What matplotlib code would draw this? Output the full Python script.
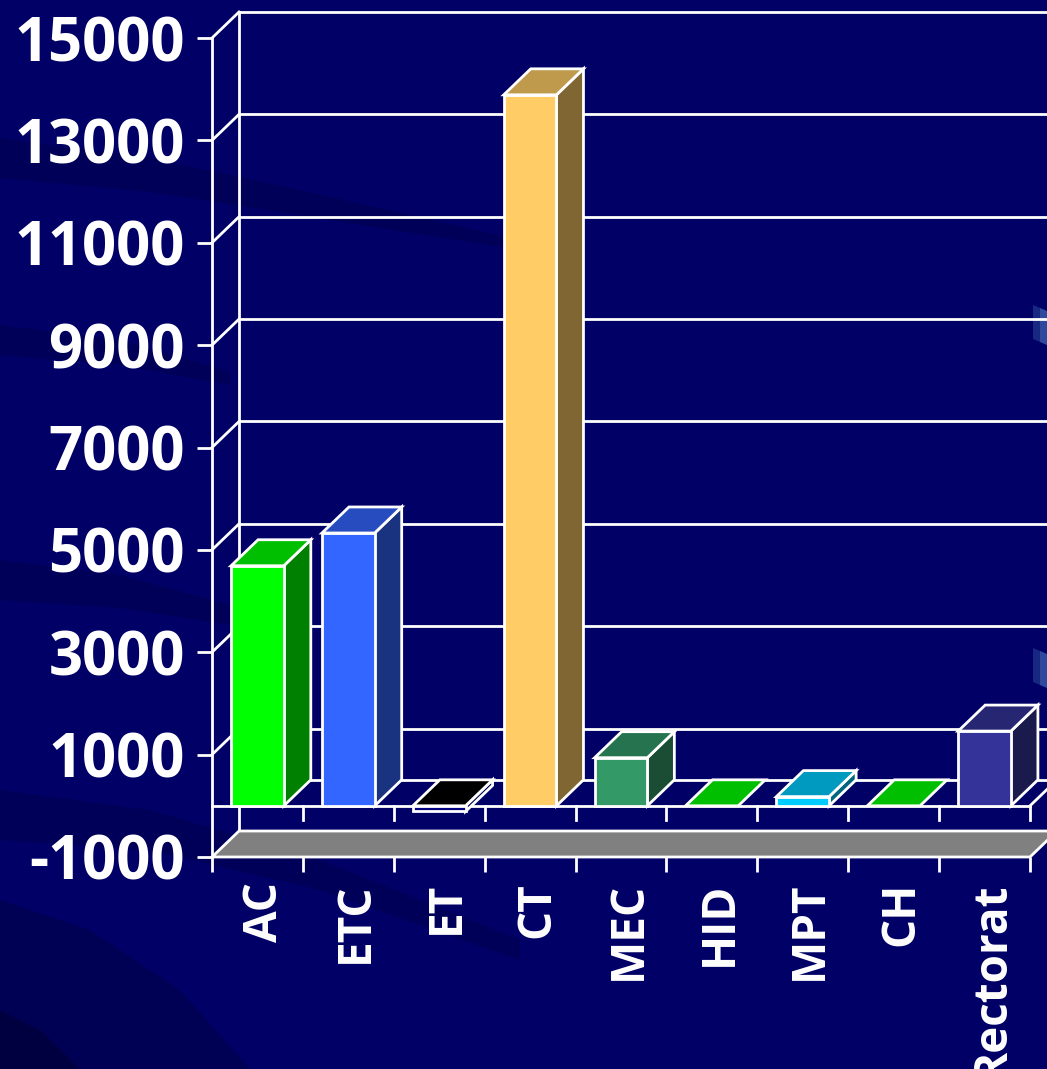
import matplotlib
matplotlib.use("Agg")
import matplotlib.pyplot as plt
from matplotlib.patches import Polygon
from matplotlib.transforms import ScaledTranslation
import numpy as np

# ---- data -------------------------------------------------------------
categories = ["AC", "ETC", "ET", "CT", "MEC", "HID", "MPT", "CH", "Rectorat"]
values = [4690, 5330, -110, 13890, 940, 0, 180, 0, 1460]
front_colors = ["#00FF00", "#3366FF", "#000080", "#FFCC66", "#339966",
                "#00BF00", "#00CCFF", "#00BF00", "#333399"]
top_colors = ["#00BF00", "#264CBF", "#000000", "#BF994C", "#267350",
              "#00BF00", "#0099BF", "#00BF00", "#262673"]
side_colors = ["#008000", "#1A3380", "#000050", "#806633", "#1A4D33",
               "#008000", "#006680", "#008000", "#1A1A4D"]
y_ticks = list(range(-1000, 15001, 2000))
y_min, y_max = -1000, 15000

# ---- layout (pixels) --------------------------------------------------
W, H, DPI = 1047, 1069, 100
BG = "#000066"
AX_L, AX_R, AX_T, AX_B = 212, 1030, 38, 857   # front plane of the chart
DEPTH_PX = (27, 26)                           # oblique depth offset
LW = 2.0

plt.rcParams["font.family"] = ["Open Sans", "DejaVu Sans"]

fig = plt.figure(figsize=(W / DPI, H / DPI), dpi=DPI, facecolor=BG)
ax = fig.add_axes([AX_L / W, (H - AX_B) / H, (AX_R - AX_L) / W, (AX_B - AX_T) / H])
ax.set_facecolor("none")
n = len(categories)
ax.set_xlim(0, n)
ax.set_ylim(y_min, y_max)
for s in ax.spines.values():
    s.set_visible(False)

px_per_cat = (AX_R - AX_L) / n
px_per_val = (AX_B - AX_T) / (y_max - y_min)
DX = DEPTH_PX[0] / px_per_cat
DY = DEPTH_PX[1] / px_per_val


def px2fig(pts):
    return [(x / W, 1 - y / H) for x, y in pts]


# ---- background swooshes (decoration only) -----------------------------
def band(top, bot, color="#000040", alpha=0.45):
    pts = top + bot[::-1]
    fig.add_artist(Polygon(px2fig(pts), closed=True, transform=fig.transFigure,
                           fc=color, ec="none", alpha=alpha, zorder=-5))


band([(0, 138), (150, 158), (300, 190), (520, 240)],
     [(0, 178), (150, 192), (300, 215), (520, 250)], alpha=0.35)
band([(0, 325), (120, 340), (230, 372)],
     [(0, 355), (120, 365), (230, 385)], alpha=0.35)
band([(0, 560), (120, 575), (230, 605)],
     [(0, 600), (120, 608), (230, 625)], alpha=0.35)
band([(0, 790), (150, 810), (320, 860), (520, 940)],
     [(0, 840), (150, 850), (320, 890), (520, 960)], alpha=0.35)
band([(0, 900), (90, 930), (180, 990), (250, 1069)],
     [(0, 1069), (250, 1069)], alpha=0.45)
band([(0, 1010), (40, 1030), (80, 1069)], [(0, 1069), (80, 1069)],
     color="#000030", alpha=0.5)
for y0 in (305, 648):
    fig.add_artist(Polygon(px2fig([(1033, y0), (1047, y0 + 6), (1047, y0 + 40), (1033, y0 + 34)]),
                           closed=True, transform=fig.transFigure, fc="#2A4A9A",
                           ec="none", alpha=0.55, zorder=-4))
    fig.add_artist(Polygon(px2fig([(1040, y0 + 3), (1047, y0 + 6), (1047, y0 + 40), (1040, y0 + 37)]),
                           closed=True, transform=fig.transFigure, fc="#4A6AB8",
                           ec="none", alpha=0.5, zorder=-4))


def line(xs, ys, z=2):
    ax.plot(xs, ys, color="white", lw=LW, clip_on=False, zorder=z,
            solid_capstyle="projecting", solid_joinstyle="miter")


def face(pts, fc, z=5):
    ax.add_patch(Polygon(pts, closed=True, fc=fc, ec="white", lw=LW,
                         clip_on=False, zorder=z, joinstyle="miter"))


# ---- walls -----------------------------------------------------------
for v in y_ticks:
    if v == y_min:
        continue
    line([DX, n + DX + 1], [v + DY, v + DY])          # back wall gridline
    line([0, DX], [v, v + DY])                         # side wall diagonal
line([DX, DX], [y_min + DY, y_max + DY])               # back corner
line([0, 0], [y_min, y_max], z=3)                      # front corner

# gray floor slab at the axis minimum
face([(0, y_min), (n, y_min), (n + DX, y_min + DY), (DX, y_min + DY)], "#808080", z=2)

# zero-level floor
tick_len = 14 / px_per_val
line([DX, n + DX], [DY, DY])
line([0, n], [0, 0])
line([n, n + DX], [0, DY])
for i in range(1, n + 1):
    line([i, i], [0, -tick_len])

# ---- bars --------------------------------------------------------------
bar_off, bar_w = 0.21, 0.58
for i, (v, fc, tc, sc) in enumerate(zip(values, front_colors, top_colors, side_colors)):
    x0, x1 = i + bar_off, i + bar_off + bar_w
    lo, hi = min(0, v), max(0, v)
    if hi > lo:
        face([(x1, lo), (x1, hi), (x1 + DX, hi + DY), (x1 + DX, lo + DY)], sc, z=5 + i)
        face([(x0, lo), (x1, lo), (x1, hi), (x0, hi)], fc, z=5 + i)
    face([(x0, hi), (x1, hi), (x1 + DX, hi + DY), (x0 + DX, hi + DY)], tc, z=5 + i)

# ---- axes ticks and labels ---------------------------------------------
ax.set_yticks(y_ticks)
ax.set_yticklabels([str(v) for v in y_ticks])
ax.tick_params(axis="y", length=15 * 72 / DPI, width=LW, color="white",
               labelcolor="white", labelsize=43, pad=12 * 72 / DPI)
for lbl in ax.get_yticklabels():
    lbl.set_fontweight("bold")

ax.set_xticks(range(n + 1))
ax.set_xticklabels([])
ax.tick_params(axis="x", which="major", length=15 * 72 / DPI, width=LW, color="white")

# category labels, rotated, hanging below the ticks
lbl_tr = ax.get_xaxis_transform() + ScaledTranslation(7 / DPI, -25 / DPI, fig.dpi_scale_trans)
for i, name in enumerate(categories):
    ax.text(i + 0.5, 0, name, transform=lbl_tr, rotation=90, ha="center", va="top",
            fontsize=33, fontweight="bold", color="white", clip_on=False)

fig.savefig("out.png", dpi=DPI, facecolor=BG)
